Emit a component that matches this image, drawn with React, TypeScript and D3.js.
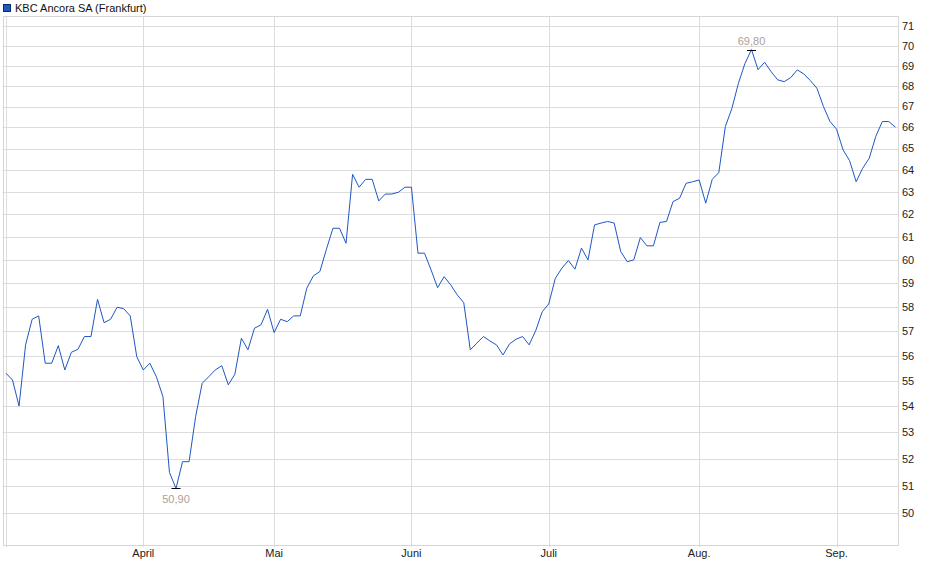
import React, { useEffect, useRef } from 'react';
import * as d3 from 'd3';

// Daily closing prices (Frankfurt), one per trading day, Mar → mid Sep
const prices: number[] = [
  55.3, 55.03, 54.01, 56.44, 57.49, 57.63, 55.7, 55.7, 56.41, 55.43,
  56.14, 56.26, 56.78, 56.78, 58.32, 57.35, 57.49, 57.99, 57.93, 57.63,
  55.96, 55.43, 55.7, 55.16, 54.38, 51.49, 50.9, 51.89, 51.89, 53.6,
  54.9, 55.16, 55.43, 55.6, 54.84, 55.26, 56.71, 56.24, 57.12, 57.26,
  57.9, 56.94, 57.49, 57.39, 57.63, 57.63, 58.79, 59.31, 59.5, 60.46,
  61.38, 61.38, 60.72, 63.81, 63.22, 63.58, 63.58, 62.6, 62.91, 62.91,
  62.99, 63.22, 63.22, 60.29, 60.29, 59.57, 58.81, 59.28, 58.93, 58.51,
  58.18, 56.24, 56.51, 56.78, 56.6, 56.44, 56.03, 56.48, 56.67, 56.78,
  56.44, 57.02, 57.8, 58.13, 59.21, 59.64, 59.97, 59.6, 60.51, 60.0,
  61.53, 61.61, 61.68, 61.61, 60.36, 59.92, 60.0, 60.97, 60.61, 60.61,
  61.64, 61.68, 62.57, 62.72, 63.4, 63.47, 63.55, 62.5, 63.58, 63.89,
  66.04, 66.91, 68.13, 69.11, 69.8, 68.8, 69.17, 68.7, 68.3, 68.21,
  68.41, 68.79, 68.59, 68.26, 67.89, 67.0, 66.28, 65.92, 64.94, 64.44,
  63.47, 64.09, 64.55, 65.57, 66.28, 66.28, 66.01,
];

// Month boundaries (index of first trading day) and labels
const monthStarts: number[] = [0, 21, 41, 62, 83, 106, 127];
const monthLabels: string[] = ['', 'April', 'Mai', 'Juni', 'Juli', 'Aug.', 'Sep.'];

const yTicks: number[] = d3.range(50, 72);

const seriesName = 'KBC Ancora SA (Frankfurt)';

const W = 940;
const H = 579;
const FONT = '"Liberation Sans", Arial, sans-serif';

export default function App() {
  const svgRef = useRef<SVGSVGElement>(null);

  useEffect(() => {
    if (!svgRef.current) return;
    const svg = d3.select(svgRef.current);
    svg.selectAll('*').remove();

    const plot = { left: 2.7, right: 898, top: 16, bottom: 545 };

    const x = d3.scaleLinear().domain([-0.5, 136.4]).range([plot.left, plot.right]);
    const y = d3.scaleLog().domain([48.87, 71.51]).range([plot.bottom, plot.top]);

    const g = svg.append('g');

    // horizontal grid
    g.append('g')
      .selectAll('line')
      .data(yTicks)
      .enter()
      .append('line')
      .attr('x1', plot.left)
      .attr('x2', plot.right)
      .attr('y1', (d) => Math.round(y(d)) + 0.5)
      .attr('y2', (d) => Math.round(y(d)) + 0.5)
      .attr('stroke', '#dcdcdc')
      .attr('stroke-width', 1);

    // vertical month grid
    g.append('g')
      .selectAll('line')
      .data(monthStarts)
      .enter()
      .append('line')
      .attr('x1', (d) => Math.round(x(d)) + 0.5)
      .attr('x2', (d) => Math.round(x(d)) + 0.5)
      .attr('y1', plot.top)
      .attr('y2', plot.bottom + 2)
      .attr('stroke', '#dcdcdc')
      .attr('stroke-width', 1);

    // frame
    g.append('rect')
      .attr('x', Math.round(plot.left) + 0.5)
      .attr('y', plot.top + 0.5)
      .attr('width', Math.round(plot.right - plot.left))
      .attr('height', plot.bottom - plot.top)
      .attr('fill', 'none')
      .attr('stroke', '#d6d6d6')
      .attr('stroke-width', 1);

    // y labels on the right
    g.append('g')
      .selectAll('text')
      .data(yTicks)
      .enter()
      .append('text')
      .attr('x', plot.right + 4)
      .attr('y', (d) => y(d))
      .attr('dy', '0.35em')
      .style('font-family', FONT)
      .style('font-size', '11px')
      .attr('fill', '#222')
      .text((d) => d);

    // month labels
    g.append('g')
      .selectAll('text')
      .data(monthStarts)
      .enter()
      .append('text')
      .attr('x', (d) => x(d))
      .attr('y', plot.bottom + 12)
      .attr('text-anchor', 'middle')
      .style('font-family', FONT)
      .style('font-size', '11px')
      .attr('fill', '#222')
      .text((d, i) => monthLabels[i]);

    // price line
    const line = d3
      .line<number>()
      .x((d, i) => x(i))
      .y((d) => y(d));

    g.append('path')
      .datum(prices)
      .attr('fill', 'none')
      .attr('stroke', '#1f57c3')
      .attr('stroke-width', 1)
      .attr('d', line);

    // high / low markers
    const hiIdx = d3.maxIndex(prices);
    const loIdx = d3.minIndex(prices);
    const fmt = (v: number) => v.toFixed(2).replace('.', ',');

    [
      { i: hiIdx, dy: -5 },
      { i: loIdx, dy: 15 },
    ].forEach(({ i, dy }) => {
      const px = x(i);
      const py = y(prices[i]);
      g.append('line')
        .attr('x1', px - 4.5)
        .attr('x2', px + 4.5)
        .attr('y1', Math.round(py) + 0.5)
        .attr('y2', Math.round(py) + 0.5)
        .attr('stroke', '#000')
        .attr('stroke-width', 1);
      g.append('text')
        .attr('x', px)
        .attr('y', py + dy)
        .attr('text-anchor', 'middle')
        .style('font-family', FONT)
        .style('font-size', '11px')
        .attr('fill', '#aaa296')
        .text(fmt(prices[i]));
    });

    // legend
    const legend = svg.append('g');
    legend
      .append('rect')
      .attr('x', 3.5)
      .attr('y', 4.5)
      .attr('width', 7)
      .attr('height', 7)
      .attr('fill', '#1f57c3')
      .attr('stroke', '#0b2a66')
      .attr('stroke-width', 1);
    legend
      .append('text')
      .attr('x', 15)
      .attr('y', 12)
      .style('font-family', FONT)
      .style('font-size', '11px')
      .attr('fill', '#111')
      .text(seriesName);
  }, []);

  return (
    <svg
      ref={svgRef}
      width={W}
      height={H}
      style={{ position: 'absolute', left: 0, top: 0, background: '#fff' }}
    />
  );
}
